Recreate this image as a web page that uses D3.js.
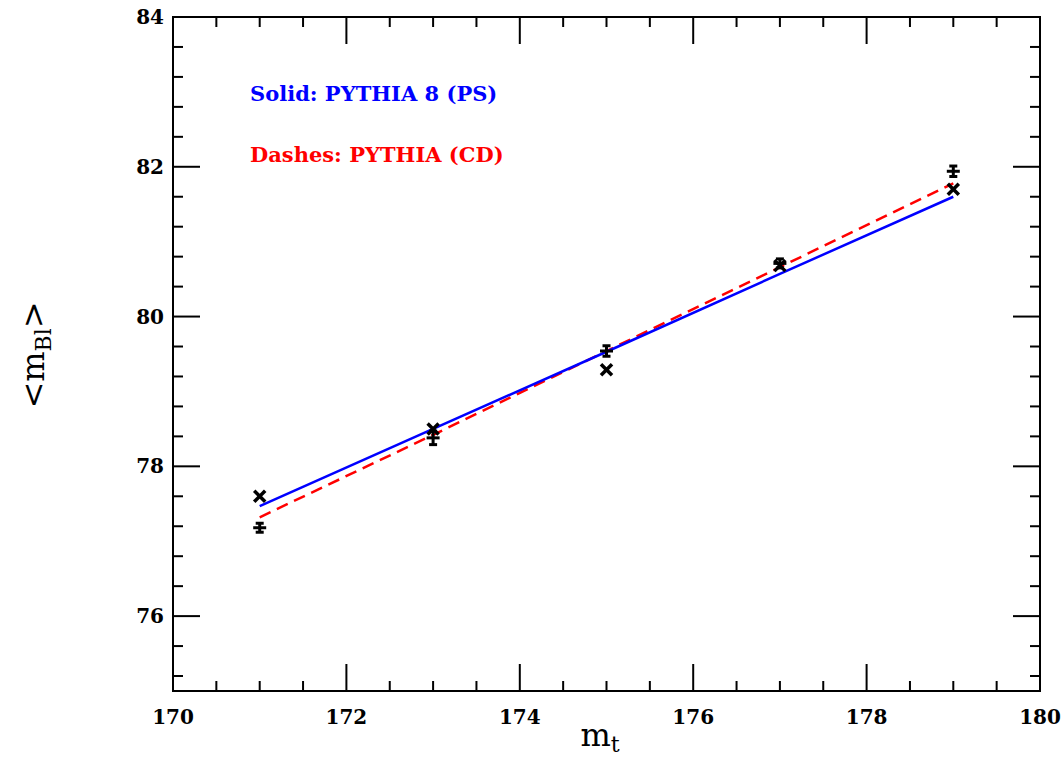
<!DOCTYPE html>
<html>
<head>
<meta charset="utf-8">
<script src="https://cdn.jsdelivr.net/npm/d3@7"></script>
<style>
  body { margin: 0; background: #fff; }
  svg text { fill: #000; }
</style>
</head>
<body>
<div id="chart"></div>
<script>
 var pic_width = 1063,
     pic_height = 763;

 // frame of the plot in pixels
 var margin = { top: 17, right: 23, bottom: 72, left: 173 }
 var width = pic_width - margin.left - margin.right,
     height = pic_height - margin.top - margin.bottom;

 // data
 var mt = [171, 173, 175, 177, 179]
 var crossVals = [77.60, 78.50, 79.29, 80.68, 81.70]
 var plusVals = [77.18, 78.38, 79.54, 80.71, 81.94]
 var plusErr = [0.06, 0.09, 0.07, 0.06, 0.07]
 var solidVals = [77.47, 78.50, 79.53, 80.57, 81.60]
 var dashVals = [77.32, 78.42, 79.54, 80.66, 81.78]

 var xTicks = [170, 172, 174, 176, 178, 180]
 var yTicks = [76, 78, 80, 82, 84]

 var xScale = d3.scaleLinear().domain([170, 180]).range([0, width])
 var yScale = d3.scaleLinear().domain([75, 84]).range([height, 0])

 var svg = d3.select('#chart').append('svg')
     .attr('width', pic_width)
     .attr('height', pic_height)

 var g = svg.append('g')
     .attr('transform', 'translate(' + margin.left + ',' + margin.top + ')')

 // frame
 g.append('rect')
     .attr('width', width).attr('height', height)
     .attr('fill', 'none').attr('stroke', '#000').attr('stroke-width', 2)

 // ticks: majors every 2, minors every 0.5 (x) and 0.4 (y)
 var xMinor = d3.range(0, 21).map(function(i) { return 170 + i * 0.5 })
 var yMinor = d3.range(0, 23).map(function(i) { return 84 - i * 0.4 }).filter(function(d) { return d >= 75 })

 function isMajor(v, list) {
     return list.some(function(t) { return Math.abs(t - v) < 1e-6 })
 }

 var tickG = g.append('g').attr('stroke', '#000').attr('stroke-width', 2)
 xMinor.forEach(function(v) {
     var len = isMajor(v, xTicks) ? 27 : 10
     var x = xScale(v)
     tickG.append('line').attr('x1', x).attr('x2', x).attr('y1', height).attr('y2', height - len)
     tickG.append('line').attr('x1', x).attr('x2', x).attr('y1', 0).attr('y2', len)
 })
 yMinor.forEach(function(v) {
     var len = isMajor(v, yTicks) ? 27 : 10
     var y = yScale(v)
     tickG.append('line').attr('x1', 0).attr('x2', len).attr('y1', y).attr('y2', y)
     tickG.append('line').attr('x1', width).attr('x2', width - len).attr('y1', y).attr('y2', y)
 })

 // tick labels
 g.selectAll('.xlab').data(xTicks).enter().append('text')
     .attr('x', function(d) { return xScale(d) })
     .attr('y', height + 33)
     .attr('text-anchor', 'middle')
     .style('font-family', 'DejaVu Serif')
     .style('font-weight', 'bold')
     .style('font-size', '20px')
     .text(function(d) { return d })

 g.selectAll('.ylab').data(yTicks).enter().append('text')
     .attr('x', -9)
     .attr('y', function(d) { return yScale(d) + 7 })
     .attr('text-anchor', 'end')
     .style('font-family', 'DejaVu Serif')
     .style('font-weight', 'bold')
     .style('font-size', '20px')
     .text(function(d) { return d })

 // axis titles
 var xt = svg.append('text')
     .attr('x', 600).attr('y', 746)
     .attr('text-anchor', 'middle')
     .style('font-family', 'DejaVu Serif')
     .style('font-size', '32px')
 xt.append('tspan').text('m')
 xt.append('tspan').attr('dy', 6).style('font-size', '22px').text('t')

 var yt = svg.append('text')
     .attr('transform', 'translate(44,355) rotate(-90)')
     .attr('text-anchor', 'middle')
     .style('font-family', 'DejaVu Serif')
     .style('font-size', '32px')
 yt.append('tspan').text('<m')
 yt.append('tspan').attr('dy', 7).style('font-size', '22px').text('Bl')
 yt.append('tspan').attr('dy', -7).text('>')

 // curves
 var line = d3.line()
     .x(function(d, i) { return xScale(mt[i]) })
     .y(function(d) { return yScale(d) })

 g.append('path').datum(dashVals)
     .attr('d', line).attr('fill', 'none')
     .attr('stroke', '#ff0000').attr('stroke-width', 2.5)
     .attr('stroke-dasharray', '12,7')

 g.append('path').datum(solidVals)
     .attr('d', line).attr('fill', 'none')
     .attr('stroke', '#0000ff').attr('stroke-width', 2.5)

 // cross markers
 var cs = 5.5
 var crosses = g.selectAll('.cross').data(crossVals).enter().append('g')
     .attr('transform', function(d, i) { return 'translate(' + xScale(mt[i]) + ',' + yScale(d) + ')' })
     .attr('stroke', '#000').attr('stroke-width', 3.5)
 crosses.append('line').attr('x1', -cs).attr('y1', -cs).attr('x2', cs).attr('y2', cs)
 crosses.append('line').attr('x1', -cs).attr('y1', cs).attr('x2', cs).attr('y2', -cs)

 // plus markers with error bars
 var pluses = g.selectAll('.plus').data(plusVals).enter().append('g')
     .attr('transform', function(d, i) { return 'translate(' + xScale(mt[i]) + ',' + yScale(d) + ')' })
     .attr('stroke', '#000').attr('stroke-width', 3)
 pluses.append('line').attr('x1', -6.5).attr('x2', 6.5).attr('y1', 0).attr('y2', 0)
 pluses.append('line').attr('x1', 0).attr('x2', 0)
     .attr('y1', function(d, i) { return yScale(d + plusErr[i]) - yScale(d) })
     .attr('y2', function(d, i) { return yScale(d - plusErr[i]) - yScale(d) })
 pluses.append('line').attr('x1', -4).attr('x2', 4)
     .attr('y1', function(d, i) { return yScale(d + plusErr[i]) - yScale(d) })
     .attr('y2', function(d, i) { return yScale(d + plusErr[i]) - yScale(d) })
 pluses.append('line').attr('x1', -4).attr('x2', 4)
     .attr('y1', function(d, i) { return yScale(d - plusErr[i]) - yScale(d) })
     .attr('y2', function(d, i) { return yScale(d - plusErr[i]) - yScale(d) })

 // legend texts
 svg.append('text')
     .attr('x', 250).attr('y', 101)
     .style('font-family', 'DejaVu Serif')
     .style('font-weight', 'bold')
     .style('font-size', '21px')
     .style('fill', '#0000ff')
     .text('Solid: PYTHIA 8 (PS)')

 svg.append('text')
     .attr('x', 250).attr('y', 162)
     .style('font-family', 'DejaVu Serif')
     .style('font-weight', 'bold')
     .style('font-size', '21px')
     .style('fill', '#ff0000')
     .text('Dashes: PYTHIA (CD)')
</script>
</body>
</html>
